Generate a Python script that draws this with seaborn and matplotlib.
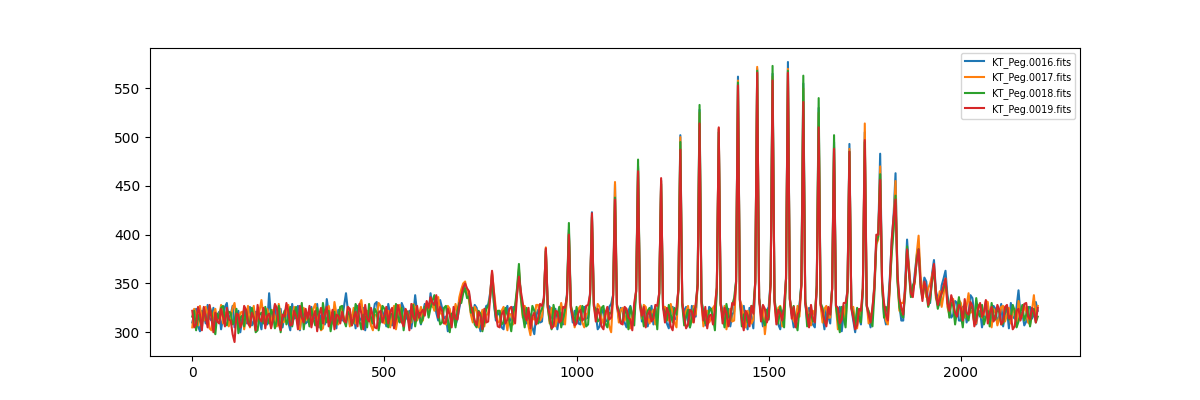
import numpy as np
import pandas as pd
import matplotlib
matplotlib.use("Agg")
import matplotlib.pyplot as plt
import seaborn as sns

# -----------------------------
# Spectra (one sample every 5 units along x)
# -----------------------------
x = np.arange(0, 2201, 5)

names = ["KT_Peg.0016.fits", "KT_Peg.0017.fits", "KT_Peg.0018.fits", "KT_Peg.0019.fits"]

peg16 = [
    310, 318, 324, 306, 301, 322, 317, 309, 328, 314, 312, 325, 306, 317, 321, 303, 315, 326, 330, 312,
    318, 327, 305, 315, 322, 300, 314, 323, 309, 318, 326, 307, 311, 321, 319, 312, 303, 324, 316, 308,
    340, 316, 313, 328, 307, 319, 324, 305, 318, 326, 310, 302, 329, 314, 315, 327, 302, 318, 320, 309,
    311, 324, 326, 313, 316, 329, 305, 317, 321, 308, 334, 320, 309, 315, 318, 304, 323, 316, 312, 327,
    340, 322, 308, 317, 319, 304, 327, 312, 314, 325, 302, 318, 322, 307, 316, 329, 331, 315, 310, 321,
    315, 306, 329, 318, 307, 324, 320, 311, 312, 330, 325, 313, 318, 322, 304, 317, 338, 320, 316, 308,
    320, 329, 327, 318, 340, 326, 331, 320, 312, 333, 325, 314, 316, 301, 303, 318, 321, 307, 314, 325,
    335, 344, 348, 338, 340, 322, 316, 328, 325, 310, 301, 318, 319, 327, 328, 340, 360, 330, 312, 320,
    318, 305, 303, 322, 327, 311, 314, 326, 321, 340, 362, 338, 325, 313, 309, 321, 317, 305, 298, 318,
    323, 310, 311, 335, 385, 328, 326, 315, 314, 324, 303, 316, 320, 308, 317, 338, 405, 326, 310, 322,
    321, 309, 308, 325, 326, 314, 315, 340, 423, 330, 318, 303, 306, 319, 324, 311, 312, 326, 329, 338,
    452, 328, 314, 325, 321, 310, 305, 322, 327, 316, 318, 342, 470, 330, 311, 320, 324, 306, 316, 327,
    308, 318, 322, 340, 456, 326, 317, 309, 304, 322, 326, 314, 313, 345, 502, 330, 320, 326, 311, 305,
    327, 318, 316, 350, 528, 332, 319, 307, 308, 326, 324, 315, 312, 345, 508, 330, 322, 310, 315, 324,
    306, 318, 321, 352, 562, 334, 318, 327, 311, 303, 325, 316, 304, 350, 570, 335, 319, 306, 312, 322,
    326, 352, 565, 332, 316, 308, 303, 320, 324, 355, 577, 335, 318, 305, 310, 324, 327, 350, 555, 332,
    312, 325, 320, 308, 305, 348, 530, 330, 317, 303, 324, 316, 309, 345, 495, 328, 318, 326, 301, 318,
    323, 345, 493, 325, 312, 300, 320, 315, 308, 345, 505, 328, 316, 305, 322, 350, 395, 400, 483, 350,
    318, 308, 326, 355, 392, 420, 463, 358, 328, 312, 312, 350, 395, 365, 345, 340, 360, 378, 390, 352,
    338, 356, 352, 330, 330, 360, 374, 342, 335, 328, 348, 355, 363, 338, 326, 315, 318, 332, 330, 312,
    312, 326, 327, 310, 319, 338, 335, 318, 308, 321, 322, 305, 316, 330, 329, 314, 311, 327, 324, 309,
    317, 329, 306, 320, 323, 304, 330, 316, 314, 326, 343, 318, 320, 307, 311, 325, 326, 314, 318, 331,
    322,
]

peg17 = [
    305, 324, 319, 307, 327, 313, 312, 326, 318, 304, 302, 319, 324, 311, 316, 328, 309, 317, 322, 306,
    314, 325, 330, 312, 308, 320, 321, 303, 316, 327, 305, 318, 327, 309, 313, 322, 333, 316, 310, 324,
    317, 305, 323, 316, 306, 329, 318, 310, 311, 321, 328, 313, 314, 326, 320, 307, 303, 318, 325, 312,
    319, 308, 310, 324, 329, 315, 313, 302, 304, 318, 320, 327, 317, 309, 331, 319, 308, 325, 323, 311,
    314, 326, 306, 315, 325, 309, 318, 328, 333, 316, 311, 322, 320, 307, 302, 318, 317, 330, 327, 313,
    309, 321, 322, 305, 316, 327, 303, 315, 328, 310, 314, 323, 321, 316, 310, 329, 325, 312, 318, 326,
    312, 325, 330, 319, 334, 328, 322, 335, 336, 320, 318, 310, 308, 327, 324, 312, 315, 329, 320, 336,
    344, 350, 352, 340, 333, 318, 310, 326, 322, 305, 314, 323, 306, 317, 320, 338, 362, 342, 324, 310,
    311, 322, 326, 314, 302, 319, 318, 308, 323, 342, 365, 335, 315, 327, 320, 306, 297, 315, 313, 328,
    328, 312, 316, 334, 387, 327, 309, 325, 322, 306, 314, 320, 330, 316, 308, 336, 402, 327, 319, 305,
    313, 324, 327, 310, 305, 318, 320, 338, 420, 328, 315, 329, 326, 314, 309, 322, 318, 306, 300, 336,
    454, 330, 310, 323, 325, 312, 318, 305, 304, 319, 321, 342, 468, 328, 314, 328, 326, 315, 309, 320,
    323, 308, 315, 340, 455, 326, 326, 316, 312, 329, 320, 310, 305, 345, 500, 330, 313, 322, 327, 312,
    310, 327, 318, 348, 525, 330, 306, 318, 322, 310, 314, 325, 328, 346, 509, 328, 316, 327, 303, 315,
    324, 311, 312, 350, 558, 333, 327, 314, 305, 322, 318, 309, 313, 352, 572, 335, 316, 325, 298, 316,
    320, 350, 562, 332, 311, 325, 327, 306, 314, 355, 570, 334, 322, 312, 308, 327, 316, 348, 550, 330,
    324, 310, 307, 322, 318, 346, 525, 328, 310, 324, 327, 315, 315, 344, 490, 326, 303, 318, 320, 327,
    312, 342, 488, 324, 326, 310, 304, 322, 318, 346, 514, 330, 309, 318, 321, 348, 390, 395, 470, 348,
    323, 312, 308, 345, 385, 410, 455, 355, 322, 330, 330, 342, 385, 368, 338, 345, 350, 380, 399, 358,
    342, 350, 336, 345, 350, 358, 368, 335, 330, 342, 326, 338, 355, 326, 318, 335, 334, 314, 321, 333,
    330, 318, 315, 327, 340, 320, 322, 310, 309, 328, 326, 315, 318, 332, 331, 312, 305, 324, 320, 307,
    314, 326, 327, 311, 318, 325, 309, 320, 324, 306, 332, 318, 316, 327, 321, 310, 308, 322, 338, 316,
    327,
]

peg18 = [
    316, 322, 302, 318, 312, 305, 325, 313, 309, 327, 320, 306, 298, 319, 314, 325, 327, 310, 307, 321,
    320, 308, 311, 324, 299, 315, 317, 306, 323, 312, 308, 325, 314, 300, 302, 318, 320, 309, 326, 315,
    309, 323, 318, 304, 312, 327, 300, 315, 322, 308, 314, 326, 306, 318, 326, 311, 316, 330, 303, 319,
    318, 306, 324, 314, 307, 325, 315, 303, 330, 317, 310, 322, 301, 314, 321, 308, 313, 326, 327, 312,
    306, 321, 318, 307, 311, 329, 324, 312, 303, 318, 316, 305, 329, 315, 309, 324, 320, 302, 314, 327,
    324, 311, 305, 320, 318, 308, 329, 316, 310, 325, 302, 317, 321, 306, 315, 328, 306, 319, 320, 309,
    314, 326, 328, 315, 325, 332, 338, 324, 320, 308, 310, 325, 327, 313, 300, 319, 318, 305, 322, 330,
    330, 340, 345, 335, 337, 320, 325, 308, 305, 322, 319, 301, 312, 324, 327, 335, 355, 330, 315, 322,
    322, 308, 310, 325, 318, 312, 301, 320, 327, 345, 370, 336, 318, 305, 325, 316, 310, 327, 322, 311,
    309, 320, 324, 333, 383, 325, 312, 303, 328, 318, 317, 326, 305, 314, 323, 338, 412, 328, 318, 309,
    326, 315, 312, 327, 320, 306, 308, 336, 418, 326, 324, 311, 313, 325, 327, 309, 305, 320, 319, 338,
    438, 328, 322, 310, 311, 325, 318, 303, 326, 318, 307, 345, 477, 330, 320, 306, 312, 322, 325, 314,
    317, 326, 303, 338, 452, 325, 321, 312, 328, 318, 310, 325, 318, 344, 495, 328, 307, 316, 323, 305,
    314, 323, 326, 350, 533, 333, 320, 309, 311, 322, 324, 315, 302, 345, 505, 328, 318, 305, 329, 317,
    312, 328, 335, 352, 556, 332, 306, 318, 320, 310, 314, 327, 325, 352, 568, 334, 320, 312, 307, 323,
    313, 354, 573, 334, 320, 309, 326, 315, 305, 355, 568, 333, 319, 327, 312, 302, 325, 350, 563, 334,
    306, 318, 320, 311, 314, 348, 540, 330, 325, 310, 309, 322, 320, 345, 502, 327, 312, 300, 326, 315,
    305, 342, 485, 326, 319, 306, 325, 316, 310, 345, 495, 326, 322, 312, 306, 340, 392, 398, 462, 350,
    315, 326, 320, 348, 380, 405, 440, 352, 326, 318, 315, 340, 388, 360, 336, 348, 352, 375, 385, 346,
    335, 348, 342, 326, 333, 352, 365, 338, 324, 332, 340, 345, 352, 335, 315, 330, 327, 308, 322, 336,
    318, 305, 329, 316, 312, 327, 324, 309, 335, 320, 316, 328, 308, 315, 322, 306, 330, 318, 313, 325,
    320, 308, 309, 323, 326, 313, 315, 328, 322, 305, 311, 320, 328, 312, 318, 326, 306, 319, 324, 310,
    316,
]

peg19 = [
    322, 305, 308, 326, 318, 302, 326, 315, 305, 328, 314, 300, 320, 311, 309, 324, 316, 306, 325, 313,
    312, 298, 290, 319, 318, 305, 310, 327, 323, 309, 306, 320, 315, 302, 328, 314, 311, 325, 304, 317,
    319, 304, 313, 329, 325, 308, 302, 318, 316, 330, 321, 307, 308, 322, 317, 303, 327, 315, 310, 324,
    314, 327, 305, 316, 322, 301, 318, 325, 309, 319, 326, 306, 312, 323, 303, 318, 317, 309, 321, 312,
    310, 326, 324, 307, 315, 321, 306, 329, 319, 303, 328, 314, 311, 325, 316, 305, 304, 320, 322, 310,
    317, 326, 309, 321, 325, 304, 313, 328, 320, 311, 306, 324, 318, 302, 329, 316, 312, 327, 315, 320,
    323, 317, 332, 325, 336, 330, 328, 338, 315, 326, 322, 309, 310, 324, 318, 305, 326, 314, 313, 328,
    338, 346, 350, 345, 342, 328, 320, 312, 307, 321, 316, 303, 324, 310, 311, 335, 363, 340, 318, 306,
    305, 318, 322, 309, 313, 324, 326, 315, 309, 338, 357, 342, 330, 318, 312, 325, 304, 316, 320, 308,
    315, 329, 327, 335, 386, 326, 318, 304, 306, 322, 321, 310, 312, 326, 325, 336, 400, 325, 316, 307,
    309, 320, 323, 312, 314, 327, 328, 338, 422, 328, 311, 324, 318, 306, 303, 319, 326, 313, 315, 336,
    436, 326, 320, 309, 308, 326, 324, 315, 313, 302, 330, 342, 465, 328, 317, 326, 305, 318, 322, 311,
    314, 328, 327, 340, 458, 326, 310, 325, 319, 306, 302, 320, 325, 344, 487, 330, 316, 304, 308, 323,
    321, 310, 329, 348, 514, 330, 312, 326, 304, 317, 318, 308, 325, 346, 510, 330, 309, 325, 320, 306,
    315, 330, 328, 350, 553, 333, 313, 302, 322, 318, 306, 327, 319, 352, 566, 335, 311, 328, 324, 310,
    316, 350, 558, 332, 308, 323, 320, 312, 327, 354, 566, 334, 314, 326, 305, 318, 322, 348, 536, 330,
    317, 305, 328, 315, 310, 346, 510, 328, 321, 312, 306, 326, 318, 344, 488, 327, 325, 309, 313, 330,
    330, 342, 485, 325, 315, 303, 307, 324, 322, 345, 497, 328, 318, 310, 326, 345, 400, 400, 456, 352,
    330, 318, 312, 350, 395, 418, 436, 360, 335, 325, 318, 345, 385, 362, 340, 336, 355, 372, 385, 350,
    332, 352, 345, 328, 338, 355, 370, 340, 328, 335, 340, 348, 355, 330, 322, 338, 330, 320, 316, 328,
    325, 312, 334, 320, 318, 331, 327, 306, 312, 325, 330, 316, 321, 333, 309, 320, 326, 311, 315, 328,
    323, 308, 311, 326, 328, 314, 317, 303, 306, 322, 324, 312, 319, 329, 330, 316, 313, 325, 321, 310,
    325,
]

series = [peg16, peg17, peg18, peg19]
for s in series:
    assert len(s) == len(x), len(s)

# -----------------------------
# Plot
# -----------------------------
fig, ax = plt.subplots(figsize=(12, 4), dpi=100)
for name, vals in zip(names, series):
    sns.lineplot(x=x, y=vals, label=name, ax=ax)

ax.legend(loc="upper right", fontsize="x-small")
fig.savefig("out.png", dpi=100)
